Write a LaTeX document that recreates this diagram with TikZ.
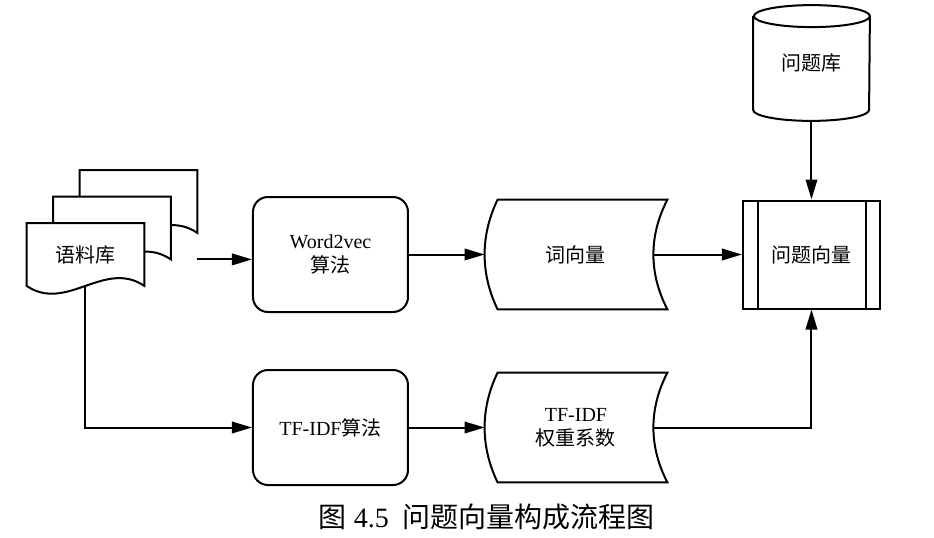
\documentclass[tikz,border=0pt]{standalone}
\usepackage{fontspec}
\setmainfont{Liberation Serif}
\newfontfamily\cjk{Noto Sans CJK SC}
\usepackage{tikz}
\usetikzlibrary{arrows.meta,shapes,positioning,backgrounds}
\usepackage{xcolor}
\tikzstyle{arrow} = [line width=1pt,-{Triangle[length=10pt,width=5.75pt]}]
\tikzstyle{process} = [rectangle, rounded corners=7.5pt, minimum width=77.5pt, minimum height=57.5pt, text centered, align=center, draw, line width=1pt]
\tikzstyle{storage} = [rectangle, minimum width=91pt, minimum height=54.5pt, text centered, align=center]
\tikzstyle{predef} = [rectangle, minimum width=68.5pt, minimum height=54pt, text centered, draw, line width=1pt]
\tikzstyle{database} = [rectangle, minimum width=58pt, minimum height=57.5pt, text centered]
\tikzstyle{docpage} = [rectangle, minimum width=58.5pt, minimum height=31pt, text centered]
\tikzstyle{outline} = [line width=1pt, fill=white]
% outlines drawn round plain nodes
\newcommand{\docoutline}[1]{%
  \draw[outline] (#1.south west) -- (#1.north west) -- (#1.north east) -- (#1.south east)
    .. controls ([xshift=-20pt,yshift=13.5pt]#1.south east) and ([xshift=20pt,yshift=-13.5pt]#1.south west) .. cycle;}
\newcommand{\storedoutline}[1]{%
  \draw[outline] ([xshift=6.5pt]#1.north west) -- (#1.north east)
    .. controls ([xshift=-9.33pt,yshift=-18pt]#1.north east) and ([xshift=-9.33pt,yshift=18pt]#1.south east) .. (#1.south east)
    -- ([xshift=6.5pt]#1.south west)
    .. controls ([xshift=-2.17pt,yshift=18pt]#1.south west) and ([xshift=-2.17pt,yshift=-18pt]#1.north west) .. cycle;}
\newcommand{\dboutline}[1]{%
  \draw[outline] ([yshift=-5.5pt]#1.north west) -- ([yshift=5.5pt]#1.south west)
    arc[start angle=180, end angle=360, x radius=29pt, y radius=5.5pt]
    -- ([yshift=-5.5pt]#1.north east)
    arc[start angle=0, end angle=360, x radius=29pt, y radius=5.5pt];}

\begin{document}
\begin{tikzpicture}
\useasboundingbox (-165.25pt,127.25pt) rectangle (301.75pt,-141.25pt);

% Upper row
\node (w2v) [process] {Word2vec\\{\cjk 算法}};
\node (vec) [storage, right of=w2v, node distance=122.75pt] {\cjk 词向量};
\node (qvec) [predef, right of=vec, node distance=117.75pt] {\cjk 问题向量};
\node (qdb) [database, above of=qvec, node distance=95.75pt] {\cjk 问题库};

% Lower row
\node (tfidf) [process, below of=w2v, node distance=86.5pt] {TF-IDF{\cjk 算法}};
\node (weight) [storage, right of=tfidf, node distance=122.75pt] {TF-IDF\\{\cjk 权重系数}};

% Corpus as a stack of pages
\node (corpus) [docpage, left of=w2v, node distance=122.5pt] {\cjk 语料库};
\node (page2) [docpage] at ([shift={(13.25pt,13.25pt)}]corpus) {};
\node (page3) [docpage] at ([shift={(26.5pt,26.5pt)}]corpus) {};
\coordinate (dout) at (page3.south east |- page2.south east);

\begin{scope}[on background layer]
\docoutline{page3}
\docoutline{page2}
\docoutline{corpus}
\storedoutline{vec}
\storedoutline{weight}
\dboutline{qdb}
\end{scope}
\draw[line width=1pt] ([xshift=8pt]qvec.north west) -- ([xshift=8pt]qvec.south west);
\draw[line width=1pt] ([xshift=-7.5pt]qvec.north east) -- ([xshift=-7.5pt]qvec.south east);

% Caption
\node (caption) [below of=tfidf, node distance=44.75pt, xshift=78.25pt, font=\fontsize{14}{16}\selectfont] {{\cjk 图} 4.5\ \ {\cjk 问题向量构成流程图}};

% Arrows
\draw[arrow] (dout) -- (dout -| w2v.west);
\draw[arrow] (w2v.east) -- (vec.west);
\draw[arrow] ([xshift=-7pt]vec.east) -- (qvec.west);
\draw[arrow] (qdb.south) -- (qvec.north);
\draw[arrow] (corpus.south) |- (tfidf.west);
\draw[arrow] (tfidf.east) -- (weight.west);
\draw[arrow] ([xshift=-7pt]weight.east) -| (qvec.south);
\end{tikzpicture}
\end{document}
